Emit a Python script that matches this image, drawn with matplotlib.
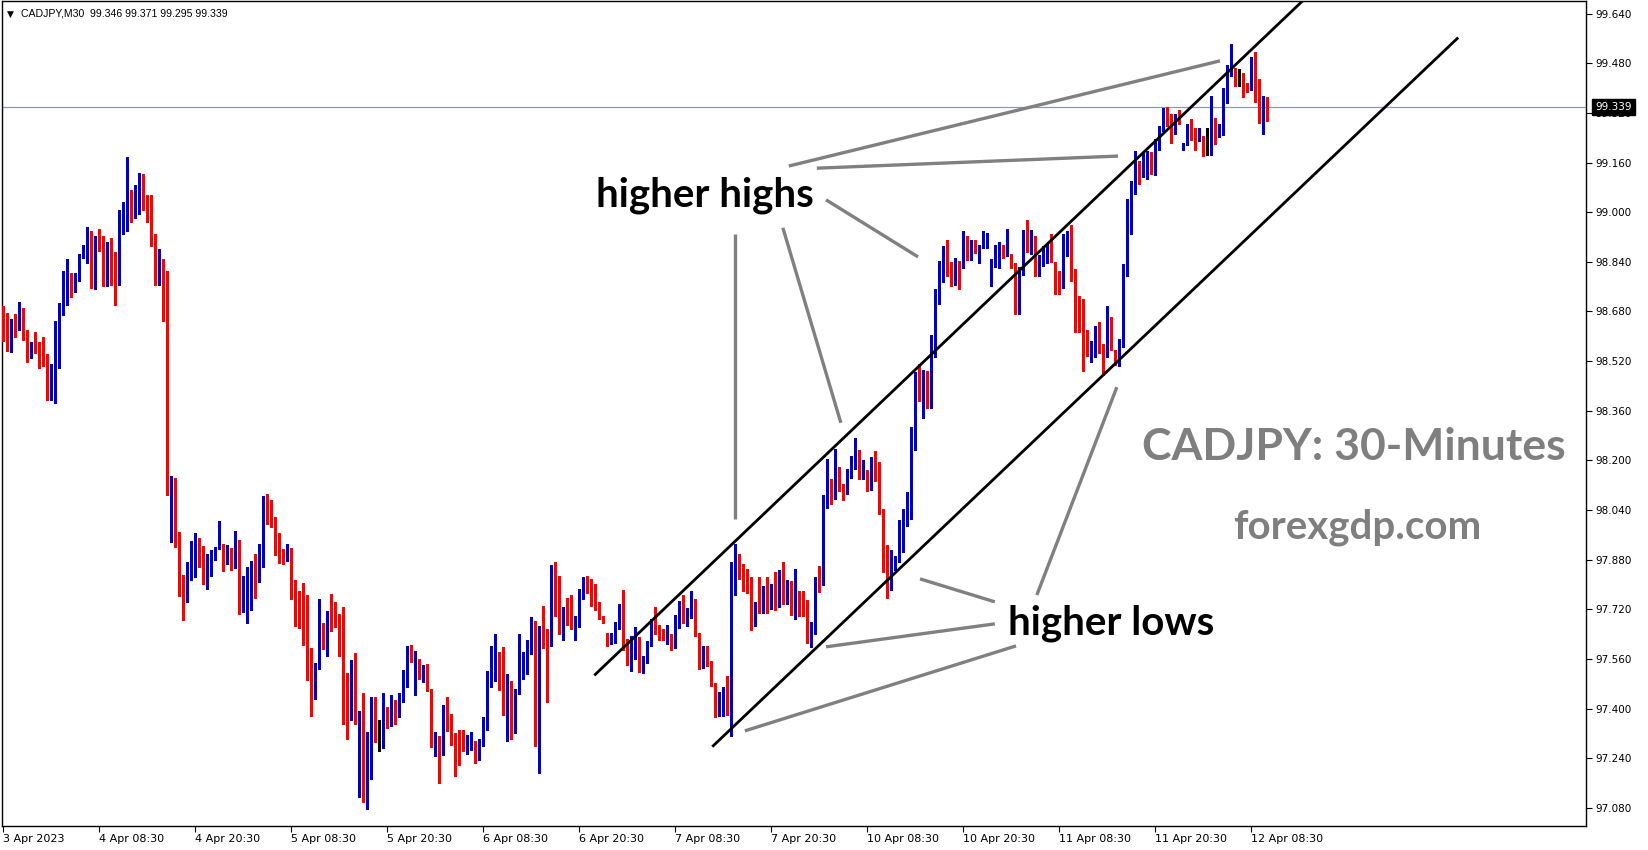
import matplotlib
matplotlib.use("Agg")
import matplotlib.pyplot as plt
import numpy as np
from matplotlib.transforms import blended_transform_factory

# ---------------- data (CADJPY M30) ----------------
opens = [98.685, 98.665, 98.562, 98.646, 98.623, 98.688, 98.611, 98.559, 98.572, 98.572,
         98.556, 98.520, 98.417, 98.469, 98.578, 98.675, 98.756, 98.801, 98.759, 98.794,
         98.856, 98.865, 98.936, 98.804, 98.920, 98.907, 98.778, 98.885, 98.788, 98.775,
         98.978, 98.994, 99.046, 98.991, 99.001, 99.091, 99.036, 99.023, 98.910, 98.801,
         98.839, 98.801, 98.127, 98.130, 97.963, 97.814, 97.750, 97.814, 97.888, 97.927,
         97.866, 97.808, 97.853, 97.879, 97.921, 97.917, 97.866, 97.917, 97.859, 97.917,
         97.730, 97.747, 97.837, 97.859, 97.840, 97.856, 98.059, 98.033, 98.017, 97.904,
         97.901, 97.891, 97.914, 97.782, 97.740, 97.692, 97.653, 97.572, 97.447, 97.543,
         97.659, 97.634, 97.714, 97.711, 97.685, 97.630, 97.469, 97.376, 97.502, 97.269,
         97.315, 97.118, 97.195, 97.418, 97.313, 97.308, 97.385, 97.347, 97.385, 97.376,
         97.421, 97.485, 97.563, 97.492, 97.560, 97.505, 97.541, 97.460, 97.296, 97.312,
         97.254, 97.396, 97.367, 97.318, 97.283, 97.283, 97.263, 97.283, 97.292, 97.244,
         97.279, 97.334, 97.512, 97.525, 97.563, 97.544, 97.392, 97.483, 97.344, 97.450,
         97.563, 97.570, 97.589, 97.653, 97.321, 97.634, 97.621, 97.612, 97.802, 97.779,
         97.647, 97.728, 97.686, 97.660, 97.663, 97.779, 97.818, 97.802, 97.776, 97.728,
         97.699, 97.634, 97.618, 97.631, 97.676, 97.718, 97.602, 97.563, 97.585, 97.631,
         97.540, 97.560, 97.614, 97.676, 97.669, 97.637, 97.624, 97.637, 97.595, 97.695,
         97.734, 97.692, 97.695, 97.750, 97.643, 97.556, 97.589, 97.553, 97.482, 97.376,
         97.437, 97.456, 97.376, 97.805, 97.898, 97.840, 97.808, 97.779, 97.679, 97.734,
         97.711, 97.788, 97.753, 97.785, 97.734, 97.814, 97.737, 97.801, 97.711, 97.769,
         97.776, 97.701, 97.624, 97.660, 97.807, 97.801, 98.065, 98.140, 98.085, 98.178,
         98.123, 98.101, 98.143, 98.204, 98.207, 98.156, 98.169, 98.140, 98.204, 98.194,
         98.030, 97.843, 97.814, 97.846, 97.872, 97.936, 97.988, 98.043, 98.233, 98.433,
         98.404, 98.433, 98.368, 98.533, 98.707, 98.807, 98.891, 98.823, 98.788, 98.836,
         98.820, 98.904, 98.849, 98.910, 98.869, 98.885, 98.901, 98.794, 98.827, 98.856,
         98.878, 98.859, 98.865, 98.836, 98.672, 98.798, 98.930, 98.878, 98.898, 98.807,
         98.840, 98.849, 98.888, 98.839, 98.791, 98.772, 98.862, 98.875, 98.778, 98.653,
         98.646, 98.588, 98.549, 98.575, 98.630, 98.575, 98.546, 98.643, 98.556, 98.546,
         98.565, 98.794, 98.949, 99.071, 99.158, 99.129, 99.136, 99.168, 99.149, 99.216,
         99.261, 99.336, 99.287, 99.258, 99.310, 99.203, 99.216, 99.242, 99.236, 99.229,
         99.242, 99.223, 99.220, 99.300, 99.255, 99.271, 99.352, 99.439, 99.455, 99.426,
         99.416, 99.406, 99.394, 99.477, 99.368, 99.307, 99.346]

highs = [98.698, 98.675, 98.656, 98.672, 98.710, 98.691, 98.620, 98.582, 98.614, 98.582,
         98.598, 98.543, 98.511, 98.649, 98.707, 98.810, 98.849, 98.804, 98.804, 98.865,
         98.894, 98.952, 98.939, 98.923, 98.946, 98.923, 98.904, 98.917, 98.872, 99.007,
         99.033, 99.178, 99.072, 99.088, 99.126, 99.123, 99.055, 99.055, 98.930, 98.881,
         98.849, 98.812, 98.150, 98.143, 97.969, 97.830, 97.872, 97.940, 97.966, 97.950,
         97.924, 97.898, 97.911, 97.921, 98.004, 97.930, 97.927, 97.917, 97.972, 97.943,
         97.827, 97.856, 97.876, 97.898, 97.930, 98.085, 98.091, 98.072, 98.017, 97.966,
         97.914, 97.930, 97.917, 97.814, 97.779, 97.805, 97.766, 97.595, 97.547, 97.753,
         97.676, 97.714, 97.769, 97.743, 97.705, 97.727, 97.514, 97.556, 97.579, 97.392,
         97.450, 97.324, 97.437, 97.437, 97.363, 97.450, 97.405, 97.444, 97.427, 97.450,
         97.524, 97.601, 97.605, 97.585, 97.560, 97.541, 97.544, 97.463, 97.325, 97.312,
         97.412, 97.437, 97.383, 97.321, 97.331, 97.331, 97.315, 97.325, 97.296, 97.302,
         97.373, 97.521, 97.602, 97.641, 97.582, 97.599, 97.512, 97.489, 97.463, 97.641,
         97.582, 97.621, 97.695, 97.682, 97.666, 97.731, 97.657, 97.863, 97.873, 97.828,
         97.728, 97.757, 97.766, 97.699, 97.786, 97.824, 97.828, 97.818, 97.802, 97.744,
         97.699, 97.644, 97.644, 97.679, 97.737, 97.782, 97.624, 97.634, 97.663, 97.631,
         97.569, 97.618, 97.689, 97.727, 97.669, 97.656, 97.669, 97.640, 97.701, 97.747,
         97.766, 97.724, 97.779, 97.753, 97.643, 97.601, 97.601, 97.553, 97.482, 97.453,
         97.469, 97.505, 97.872, 97.930, 97.898, 97.866, 97.850, 97.824, 97.743, 97.824,
         97.795, 97.824, 97.801, 97.840, 97.846, 97.872, 97.814, 97.811, 97.850, 97.779,
         97.780, 97.750, 97.680, 97.824, 97.859, 98.088, 98.204, 98.140, 98.236, 98.178,
         98.123, 98.172, 98.214, 98.272, 98.233, 98.201, 98.169, 98.210, 98.230, 98.194,
         98.043, 97.927, 97.911, 97.891, 98.007, 98.043, 98.098, 98.307, 98.484, 98.510,
         98.491, 98.488, 98.604, 98.752, 98.842, 98.891, 98.910, 98.839, 98.852, 98.842,
         98.939, 98.923, 98.910, 98.910, 98.894, 98.939, 98.933, 98.849, 98.894, 98.904,
         98.894, 98.946, 98.865, 98.836, 98.823, 98.943, 98.975, 98.943, 98.923, 98.862,
         98.891, 98.898, 98.930, 98.839, 98.810, 98.930, 98.939, 98.959, 98.817, 98.730,
         98.720, 98.620, 98.585, 98.633, 98.646, 98.575, 98.698, 98.662, 98.556, 98.591,
         98.833, 99.043, 99.100, 99.197, 99.165, 99.194, 99.197, 99.194, 99.236, 99.278,
         99.336, 99.339, 99.316, 99.316, 99.329, 99.223, 99.284, 99.300, 99.271, 99.271,
         99.245, 99.271, 99.374, 99.303, 99.284, 99.400, 99.474, 99.542, 99.464, 99.461,
         99.448, 99.416, 99.500, 99.516, 99.429, 99.374, 99.371]

lows = [98.586, 98.554, 98.549, 98.598, 98.620, 98.588, 98.517, 98.530, 98.546, 98.498,
        98.504, 98.395, 98.395, 98.385, 98.498, 98.669, 98.701, 98.727, 98.743, 98.778,
        98.852, 98.836, 98.756, 98.752, 98.875, 98.762, 98.762, 98.765, 98.701, 98.765,
        98.930, 98.939, 98.968, 98.981, 98.994, 99.007, 98.968, 98.891, 98.765, 98.765,
        98.649, 98.088, 97.937, 97.921, 97.763, 97.685, 97.743, 97.814, 97.824, 97.856,
        97.801, 97.785, 97.827, 97.879, 97.914, 97.843, 97.866, 97.846, 97.853, 97.705,
        97.711, 97.676, 97.718, 97.756, 97.808, 97.856, 97.995, 97.985, 97.895, 97.869,
        97.866, 97.875, 97.753, 97.666, 97.659, 97.605, 97.492, 97.376, 97.431, 97.527,
        97.592, 97.569, 97.650, 97.663, 97.569, 97.350, 97.302, 97.363, 97.350, 97.115,
        97.099, 97.076, 97.173, 97.292, 97.263, 97.273, 97.337, 97.344, 97.350, 97.373,
        97.421, 97.469, 97.550, 97.444, 97.495, 97.485, 97.456, 97.276, 97.247, 97.160,
        97.250, 97.328, 97.283, 97.183, 97.218, 97.263, 97.254, 97.267, 97.225, 97.234,
        97.279, 97.331, 97.470, 97.489, 97.460, 97.379, 97.296, 97.302, 97.321, 97.447,
        97.495, 97.512, 97.576, 97.279, 97.192, 97.595, 97.421, 97.602, 97.699, 97.641,
        97.621, 97.670, 97.657, 97.621, 97.663, 97.753, 97.773, 97.731, 97.718, 97.689,
        97.676, 97.602, 97.608, 97.612, 97.657, 97.589, 97.541, 97.521, 97.560, 97.518,
        97.514, 97.547, 97.601, 97.640, 97.621, 97.621, 97.608, 97.589, 97.595, 97.659,
        97.676, 97.666, 97.692, 97.634, 97.527, 97.531, 97.537, 97.472, 97.373, 97.376,
        97.376, 97.379, 97.311, 97.766, 97.817, 97.779, 97.772, 97.653, 97.666, 97.708,
        97.708, 97.708, 97.721, 97.718, 97.727, 97.737, 97.737, 97.701, 97.689, 97.698,
        97.698, 97.611, 97.600, 97.640, 97.775, 97.798, 98.046, 98.059, 98.075, 98.101,
        98.072, 98.091, 98.143, 98.172, 98.140, 98.140, 98.101, 98.104, 98.133, 98.027,
        97.840, 97.756, 97.782, 97.846, 97.872, 97.904, 97.988, 98.011, 98.233, 98.391,
        98.336, 98.368, 98.368, 98.533, 98.704, 98.775, 98.794, 98.762, 98.765, 98.752,
        98.820, 98.846, 98.846, 98.869, 98.836, 98.885, 98.885, 98.762, 98.823, 98.820,
        98.852, 98.859, 98.820, 98.672, 98.672, 98.798, 98.872, 98.865, 98.794, 98.794,
        98.827, 98.836, 98.839, 98.736, 98.736, 98.756, 98.859, 98.778, 98.614, 98.614,
        98.488, 98.536, 98.517, 98.533, 98.546, 98.475, 98.533, 98.556, 98.507, 98.504,
        98.565, 98.794, 98.930, 99.060, 99.091, 99.113, 99.107, 99.123, 99.120, 99.200,
        99.261, 99.278, 99.223, 99.252, 99.284, 99.200, 99.216, 99.232, 99.200, 99.229,
        99.181, 99.184, 99.184, 99.220, 99.242, 99.249, 99.352, 99.439, 99.406, 99.406,
        99.371, 99.387, 99.394, 99.355, 99.287, 99.252, 99.295]

closes = [98.661, 98.562, 98.646, 98.623, 98.688, 98.604, 98.524, 98.575, 98.569, 98.553,
          98.517, 98.417, 98.469, 98.582, 98.678, 98.759, 98.804, 98.759, 98.794, 98.859,
          98.865, 98.936, 98.804, 98.920, 98.907, 98.778, 98.885, 98.788, 98.775, 98.978,
          99.001, 99.043, 98.991, 99.001, 99.094, 99.026, 99.020, 98.907, 98.801, 98.839,
          98.801, 98.124, 98.133, 97.959, 97.811, 97.750, 97.817, 97.888, 97.930, 97.863,
          97.811, 97.853, 97.882, 97.921, 97.959, 97.869, 97.927, 97.856, 97.914, 97.730,
          97.753, 97.840, 97.866, 97.840, 97.859, 98.056, 98.027, 98.014, 97.901, 97.898,
          97.891, 97.914, 97.779, 97.740, 97.689, 97.650, 97.569, 97.447, 97.547, 97.659,
          97.634, 97.714, 97.708, 97.685, 97.630, 97.466, 97.373, 97.502, 97.479, 97.315,
          97.118, 97.195, 97.418, 97.311, 97.313, 97.385, 97.347, 97.389, 97.376, 97.421,
          97.492, 97.563, 97.560, 97.556, 97.508, 97.537, 97.460, 97.298, 97.312, 97.260,
          97.399, 97.367, 97.312, 97.279, 97.276, 97.263, 97.286, 97.296, 97.244, 97.283,
          97.338, 97.512, 97.528, 97.570, 97.541, 97.396, 97.486, 97.344, 97.457, 97.566,
          97.573, 97.592, 97.657, 97.321, 97.628, 97.621, 97.612, 97.802, 97.782, 97.647,
          97.724, 97.686, 97.660, 97.666, 97.779, 97.821, 97.802, 97.773, 97.721, 97.692,
          97.676, 97.618, 97.631, 97.676, 97.718, 97.602, 97.560, 97.585, 97.624, 97.543,
          97.560, 97.618, 97.676, 97.666, 97.634, 97.624, 97.637, 97.592, 97.701, 97.734,
          97.692, 97.701, 97.753, 97.637, 97.553, 97.589, 97.547, 97.479, 97.376, 97.440,
          97.460, 97.382, 97.808, 97.895, 97.834, 97.808, 97.776, 97.679, 97.734, 97.711,
          97.788, 97.724, 97.788, 97.734, 97.814, 97.737, 97.776, 97.711, 97.743, 97.701,
          97.701, 97.624, 97.660, 97.801, 97.801, 98.065, 98.143, 98.088, 98.181, 98.114,
          98.101, 98.146, 98.204, 98.210, 98.152, 98.169, 98.140, 98.204, 98.194, 98.030,
          97.840, 97.814, 97.846, 97.872, 97.936, 97.991, 98.046, 98.233, 98.433, 98.404,
          98.436, 98.368, 98.533, 98.704, 98.807, 98.891, 98.823, 98.788, 98.836, 98.817,
          98.904, 98.849, 98.910, 98.869, 98.891, 98.904, 98.910, 98.830, 98.859, 98.875,
          98.859, 98.865, 98.830, 98.672, 98.823, 98.930, 98.878, 98.901, 98.804, 98.846,
          98.852, 98.891, 98.839, 98.791, 98.769, 98.865, 98.875, 98.778, 98.649, 98.640,
          98.585, 98.549, 98.575, 98.630, 98.546, 98.546, 98.643, 98.556, 98.546, 98.565,
          98.798, 98.949, 99.071, 99.146, 99.123, 99.139, 99.168, 99.152, 99.236, 99.268,
          99.336, 99.281, 99.252, 99.310, 99.284, 99.220, 99.239, 99.232, 99.232, 99.239,
          99.220, 99.223, 99.303, 99.258, 99.271, 99.352, 99.439, 99.458, 99.423, 99.426,
          99.403, 99.394, 99.481, 99.361, 99.307, 99.345, 99.339]

x_tick_bars = [0, 24, 48, 72, 96, 120, 144, 168, 192, 216, 240, 264, 288, 312]
x_tick_labels = ["3 Apr 2023", "4 Apr 08:30", "4 Apr 20:30", "5 Apr 08:30", "5 Apr 20:30",
                 "6 Apr 08:30", "6 Apr 20:30", "7 Apr 08:30", "7 Apr 20:30", "10 Apr 08:30",
                 "10 Apr 20:30", "11 Apr 08:30", "11 Apr 20:30", "12 Apr 08:30"]
y_tick_values = [97.080, 97.240, 97.400, 97.560, 97.720, 97.880, 98.040, 98.200,
                 98.360, 98.520, 98.680, 98.840, 99.000, 99.160, 99.320, 99.480, 99.640]

last_price = 99.339
header = "CADJPY,M30  99.346 99.371 99.295 99.339"

# channel lines (bar index, price)
upper_channel_bars = [148.0, 328.0]
upper_channel_prices = [97.51, 99.72]
lower_channel_bars = [177.5, 363.5]
lower_channel_prices = [97.28, 99.56]

# annotation pointer segments (bar index pairs, price pairs)
pointer_bars = [(196.4, 304.2), (203.4, 278.7), (205.7, 228.7), (194.9, 209.4),
                (183.0, 183.0), (229.2, 247.9), (205.7, 247.9), (185.4, 253.2),
                (258.4, 278.4)]
pointer_prices = [(99.149, 99.488), (99.142, 99.181), (99.040, 98.856), (98.950, 98.321),
                  (98.930, 98.011), (97.818, 97.744), (97.599, 97.673), (97.328, 97.602),
                  (97.766, 98.436)]

# ---------------- figure ----------------
W, H = 1649, 850
fig = plt.figure(figsize=(W / 100, H / 100), dpi=100)
fig.patch.set_facecolor("white")
ax_left, ax_right, ax_top, ax_bottom = 2, 1586, 1, 826
ax = fig.add_axes([ax_left / W, (H - ax_bottom) / H,
                   (ax_right - ax_left) / W, (ax_bottom - ax_top) / H])
ax.set_facecolor("white")

o = np.array(opens); h = np.array(highs); l = np.array(lows); c = np.array(closes)
idx = np.arange(len(o))
UP, DOWN, DOJI = "#0000CD", "#FF0000", "#000000"
cols = [UP if cc > oo else (DOWN if cc < oo else DOJI) for oo, cc in zip(o, c)]

ax.vlines(idx, l, h, colors=cols, linewidth=1.0, antialiased=False, zorder=3)
bottoms = np.minimum(o, c)
heights = np.maximum(np.abs(c - o), 0.0035)
ax.bar(idx, heights, bottom=bottoms, width=0.75, color=cols, linewidth=0,
       antialiased=False, zorder=4)

# last price line
ax.axhline(last_price, color="#8a9aab", lw=0.9, zorder=2)

# channel lines
ax.plot(upper_channel_bars, upper_channel_prices, color="black", lw=2.0, zorder=5)
ax.plot(lower_channel_bars, lower_channel_prices, color="black", lw=2.0, zorder=5)

# gray pointers
for bx, py in zip(pointer_bars, pointer_prices):
    ax.plot(bx, py, color="#808080", lw=2.4, solid_capstyle="butt", zorder=6)

# y mapping: 99.640 sits at pixel row 13.7, 310.2 px per price unit
px_per_unit = 310.2
y_top_price = 99.640 + (13.7 - ax_top) / px_per_unit
y_bot_price = 99.640 - (ax_bottom - 13.7) / px_per_unit
ax.set_xlim(-0.325, 395.7)
ax.set_ylim(y_bot_price, y_top_price)

for s in ax.spines.values():
    s.set_color("black")
    s.set_linewidth(1.0)

ax.yaxis.tick_right()
ax.set_yticks(y_tick_values)
ax.set_yticklabels([f"{v:.3f}" for v in y_tick_values])
ax.tick_params(axis="y", direction="out", length=4, width=0.8, pad=3,
               labelsize=7.5, colors="black")
ax.set_xticks(x_tick_bars)
ax.set_xticklabels(x_tick_labels)
ax.tick_params(axis="x", direction="out", length=4, width=0.8, pad=1.5,
               labelsize=8, colors="black")
for lab in ax.get_xticklabels():
    lab.set_ha("left")

# current price tag
tr = blended_transform_factory(ax.transAxes, ax.transData)
ax.text(1.0057, last_price, f"{last_price:.3f}", transform=tr, ha="left", va="center",
        fontsize=7.5, color="white", zorder=10,
        bbox=dict(boxstyle="square,pad=0.3", fc="black", ec="black"))

# header
fig.text(7 / W, 1 - 14 / H, "\u25BC", fontsize=6.5, ha="left", va="center",
         color="black", family="DejaVu Sans")
fig.text(21 / W, 1 - 14 / H, header, fontsize=7.6, ha="left", va="center",
         color="black", family="Liberation Sans")

# annotations
fig.text(705 / W, 1 - 207 / H, "higher highs", family="Lato", weight="bold",
         fontsize=29, color="black", ha="center", va="baseline")
fig.text(1111 / W, 1 - 635 / H, "higher lows", family="Lato", weight="bold",
         fontsize=29, color="black", ha="center", va="baseline")
fig.text(1354 / W, 1 - 460 / H, "CADJPY: 30-Minutes", family="Lato", weight="bold",
         fontsize=32, color="#7f7f7f", ha="center", va="baseline")
fig.text(1357 / W, 1 - 538 / H, "forexgdp.com", family="Lato", weight="bold",
         fontsize=29, color="#7f7f7f", ha="center", va="baseline")

fig.savefig("out.png", dpi=100, facecolor="white")
